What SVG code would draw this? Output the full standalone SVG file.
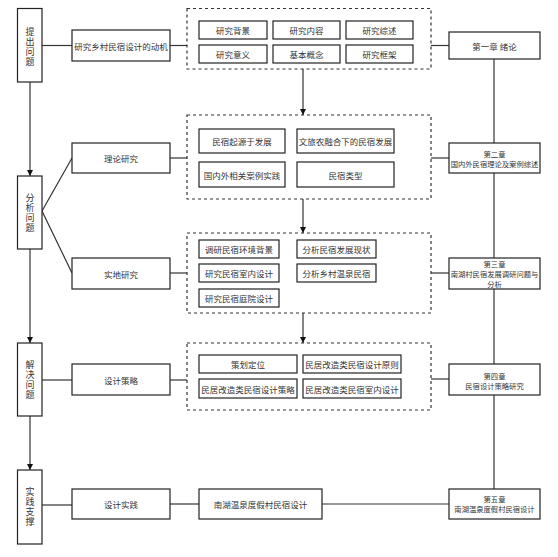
<svg xmlns="http://www.w3.org/2000/svg" width="558" height="557" viewBox="0 0 558 557">
<defs>
<style>
.b{fill:#fff;stroke:#222;stroke-width:1.2}
.d{fill:none;stroke:#333;stroke-width:1.2;stroke-dasharray:3 3}
.l{fill:none;stroke:#333;stroke-width:1.2}
text{font-family:"Noto Sans CJK SC","Noto Sans",sans-serif;fill:#333;text-anchor:middle;dominant-baseline:central}
.t{font-size:8.5px}
.s{font-size:7.3px}
.v{font-size:9px;writing-mode:vertical-rl;letter-spacing:1px;dominant-baseline:auto}
</style>
<marker id="ah" viewBox="0 0 10 10" refX="10" refY="5" markerWidth="6" markerHeight="6" orient="auto" markerUnits="userSpaceOnUse">
<path d="M0,0 L10,5 L0,10 z" fill="#111"/>
</marker>
</defs>
<rect width="558" height="557" fill="#fff"/>
<g id="connectors">
<line class="l" x1="30" y1="82" x2="30" y2="176" marker-end="url(#ah)"/>
<line class="l" x1="30" y1="249" x2="30" y2="343" marker-end="url(#ah)"/>
<line class="l" x1="30" y1="416" x2="30" y2="470" marker-end="url(#ah)"/>
<line class="l" x1="42" y1="45.5" x2="72" y2="45.5"/>
<line class="l" x1="42" y1="211" x2="72" y2="158"/>
<line class="l" x1="42" y1="211" x2="72" y2="273"/>
<line class="l" x1="42" y1="380" x2="72" y2="380"/>
<line class="l" x1="42" y1="505" x2="72" y2="505"/>
<line class="l" x1="170" y1="45.5" x2="187" y2="45.5"/>
<line class="l" x1="170" y1="158" x2="187" y2="158"/>
<line class="l" x1="170" y1="273" x2="187" y2="273"/>
<line class="l" x1="170" y1="380" x2="187" y2="380"/>
<line class="l" x1="170" y1="504" x2="199" y2="504"/>
<line class="l" x1="431" y1="45.5" x2="449" y2="45.5"/>
<line class="l" x1="431" y1="158" x2="449" y2="158"/>
<line class="l" x1="431" y1="273" x2="449" y2="273"/>
<line class="l" x1="431" y1="379" x2="449" y2="379"/>
<line class="l" x1="322" y1="504" x2="449" y2="504"/>
<line class="l" x1="494" y1="59" x2="494" y2="489"/>
<line class="l" x1="303" y1="69" x2="303" y2="115" marker-end="url(#ah)"/>
<line class="l" x1="303" y1="199" x2="303" y2="233" marker-end="url(#ah)"/>
<line class="l" x1="303" y1="313" x2="303" y2="343" marker-end="url(#ah)"/>
</g>
<g id="stage1"><rect class="b" x="17.5" y="8.5" width="24.5" height="73.5"/><text class="v" x="30" y="47">提出问题</text></g>
<g id="stage2"><rect class="b" x="17.5" y="176" width="24.5" height="73"/><text class="v" x="30" y="213">分析问题</text></g>
<g id="stage3"><rect class="b" x="17.5" y="343" width="24.5" height="73"/><text class="v" x="30" y="380">解决问题</text></g>
<g id="stage4"><rect class="b" x="17.5" y="470" width="24.5" height="74"/><text class="v" x="30" y="507">实践支撑</text></g>

<g id="motive"><rect class="b" x="72" y="30" width="98" height="31"/><text class="t" x="121" y="45.5">研究乡村民宿设计的动机</text></g>
<g id="theory"><rect class="b" x="72" y="143" width="98" height="30"/><text class="t" x="121" y="158">理论研究</text></g>
<g id="field"><rect class="b" x="72" y="258" width="98" height="31"/><text class="t" x="121" y="273.5">实地研究</text></g>
<g id="strategy"><rect class="b" x="72" y="364" width="98" height="31"/><text class="t" x="121" y="379.5">设计策略</text></g>
<g id="practice"><rect class="b" x="72" y="489" width="98" height="30"/><text class="t" x="121" y="504">设计实践</text></g>

<g id="group1">
<rect class="d" x="187" y="8.5" width="244" height="60.5"/>
<rect class="b" x="199" y="21" width="68" height="18"/><text class="t" x="233" y="30">研究背景</text>
<rect class="b" x="273" y="21" width="67" height="18"/><text class="t" x="306.5" y="30">研究内容</text>
<rect class="b" x="346" y="21" width="67" height="18"/><text class="t" x="379.5" y="30">研究综述</text>
<rect class="b" x="199" y="45" width="68" height="18"/><text class="t" x="233" y="54">研究意义</text>
<rect class="b" x="273" y="45" width="67" height="18"/><text class="t" x="306.5" y="54">基本概念</text>
<rect class="b" x="346" y="45" width="67" height="18"/><text class="t" x="379.5" y="54">研究框架</text>
</g>
<g id="group2">
<rect class="d" x="187" y="115" width="244" height="84"/>
<rect class="b" x="199" y="129" width="86" height="24"/><text class="t" x="242" y="141">民宿起源于发展</text>
<rect class="b" x="297" y="129" width="97" height="24"/><text class="t" x="345.5" y="141">文旅农融合下的民宿发展</text>
<rect class="b" x="199" y="162" width="86" height="25"/><text class="t" x="242" y="174.5">国内外相关案例实践</text>
<rect class="b" x="297" y="162" width="97" height="25"/><text class="t" x="345.5" y="174.5">民宿类型</text>
</g>
<g id="group3">
<rect class="d" x="187" y="233" width="244" height="80"/>
<rect class="b" x="199" y="240" width="80" height="18"/><text class="t" x="239" y="249">调研民宿环境背景</text>
<rect class="b" x="199" y="264" width="80" height="18"/><text class="t" x="239" y="273">研究民宿室内设计</text>
<rect class="b" x="199" y="289" width="80" height="18"/><text class="t" x="239" y="298">研究民宿庭院设计</text>
<rect class="b" x="297" y="240" width="79" height="18"/><text class="t" x="336.5" y="249">分析民宿发展现状</text>
<rect class="b" x="297" y="264" width="79" height="18"/><text class="t" x="336.5" y="273">分析乡村温泉民宿</text>
</g>
<g id="group4">
<rect class="d" x="187" y="343" width="244" height="67"/>
<rect class="b" x="199" y="355" width="98" height="18"/><text class="t" x="248" y="364">策划定位</text>
<rect class="b" x="303" y="355" width="98" height="18"/><text class="t" x="352" y="364">民居改造类民宿设计原则</text>
<rect class="b" x="199" y="379" width="98" height="19"/><text class="t" x="248" y="388.5">民居改造类民宿设计策略</text>
<rect class="b" x="303" y="379" width="98" height="19"/><text class="t" x="352" y="388.5">民居改造类民宿室内设计</text>
</g>
<g id="design"><rect class="b" x="199" y="489" width="123" height="30"/><text class="t" x="260.5" y="504">南湖温泉度假村民宿设计</text></g>

<g id="ch1"><rect class="b" x="449" y="32" width="91" height="27"/><text class="t" x="494.5" y="45.5">第一章 绪论</text></g>
<g id="ch2"><rect class="b" x="449" y="143" width="91" height="30"/><text class="s" x="494.5" y="154">第二章</text><text class="s" x="494.5" y="164">国内外民宿理论及案例综述</text></g>
<g id="ch3"><rect class="b" x="449" y="258" width="91" height="31"/><text class="s" x="494.5" y="264">第三章</text><text class="s" x="494.5" y="274">南湖村民宿发展调研问题与</text><text class="s" x="494.5" y="284">分析</text></g>
<g id="ch4"><rect class="b" x="449" y="364" width="91" height="31"/><text class="s" x="494.5" y="376">第四章</text><text class="s" x="494.5" y="386">民宿设计策略研究</text></g>
<g id="ch5"><rect class="b" x="449" y="489" width="91" height="30"/><text class="s" x="494.5" y="499">第五章</text><text class="s" x="494.5" y="509">南湖温泉度假村民宿设计</text></g>
</svg>
